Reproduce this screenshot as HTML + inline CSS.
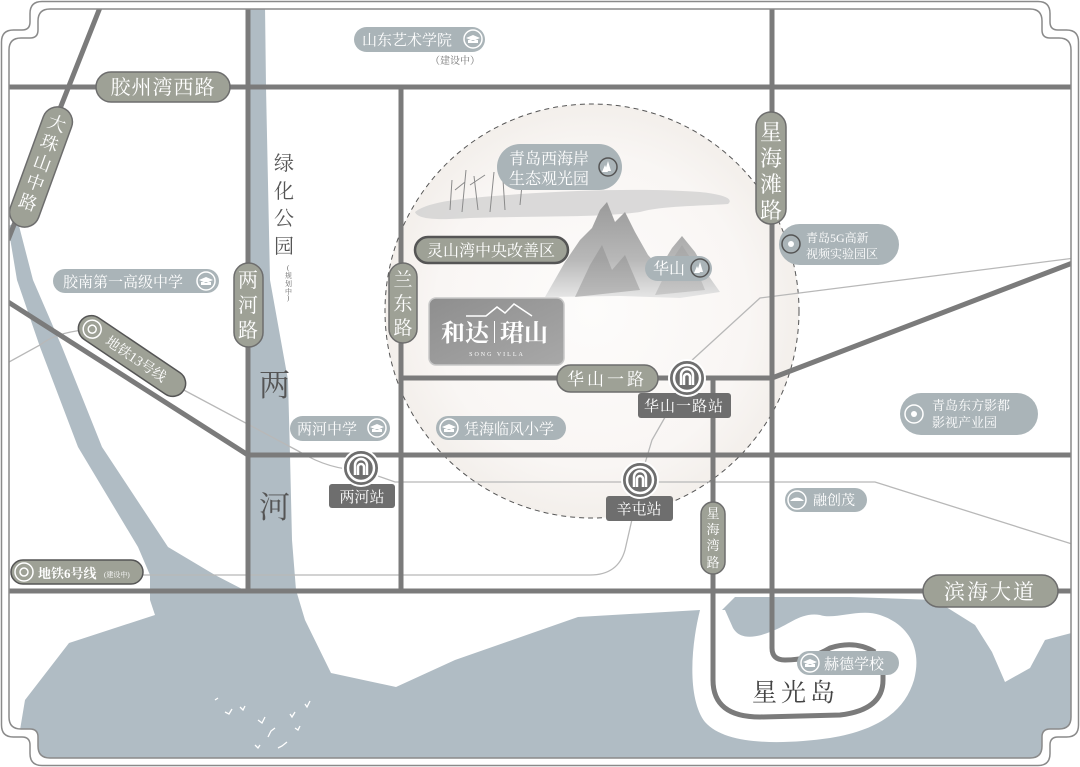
<!DOCTYPE html>
<html><head><meta charset="utf-8"><style>
html,body{margin:0;padding:0;background:#fff;}
svg{display:block;}
text{font-family:"Liberation Serif","Noto Serif CJK SC",serif;}
</style></head><body>
<svg width="1080" height="767" viewBox="0 0 1080 767" xmlns="http://www.w3.org/2000/svg">
<defs>
<clipPath id="fr"><path d="M9,50 Q9,38 21,38 L30,38 Q38,38 38,30 L38,21 Q38,9 50,9 L1030,9 Q1042,9 1042,21 L1042,30 Q1042,38 1050,38 L1059,38 Q1071,38 1071,50 L1071,717 Q1071,729 1059,729 L1050,729 Q1042,729 1042,737 L1042,746 Q1042,758 1030,758 L50,758 Q38,758 38,746 L38,737 Q38,729 30,729 L21,729 Q9,729 9,717 Z"/></clipPath>
<radialGradient id="cg" cx="0.5" cy="0.5" r="0.5"><stop offset="0" stop-color="#fdfcfb"/><stop offset="0.75" stop-color="#f9f6f4"/><stop offset="1" stop-color="#f3efeb"/></radialGradient>
<linearGradient id="mg" x1="0" y1="0" x2="0" y2="1"><stop offset="0" stop-color="#9a9a9a"/><stop offset="0.6" stop-color="#b8b8b8"/><stop offset="1" stop-color="#e6e6e6"/></linearGradient>
<linearGradient id="lg" x1="0" y1="0" x2="1" y2="1"><stop offset="0" stop-color="#8e8e8e"/><stop offset="1" stop-color="#a8a8a8"/></linearGradient>
</defs>

<path d="M1.5,42 Q1.5,30 13.5,30 L22,30 Q30,30 30,22 L30,13.5 Q30,1.5 42,1.5 L1038,1.5 Q1050,1.5 1050,13.5 L1050,22 Q1050,30 1058,30 L1066.5,30 Q1078.5,30 1078.5,42 L1078.5,725 Q1078.5,737 1066.5,737 L1058,737 Q1050,737 1050,745 L1050,753.5 Q1050,765.5 1038,765.5 L42,765.5 Q30,765.5 30,753.5 L30,745 Q30,737 22,737 L13.5,737 Q1.5,737 1.5,725 Z" fill="none" stroke="#8a8a8a" stroke-width="1.5"/>

<g clip-path="url(#fr)">
<rect x="0" y="0" width="1080" height="767" fill="#fff"/>
<circle cx="592" cy="311" r="207" fill="url(#cg)"/>

<path d="M8,226 L17,280 L40,347 L78,447 L138,547 L150,575 L150,600 L155,615 L69,643 L25,700 L15,760 L1075,760 L1075,632 L1045,640 L1030,668 L1005,682 L992,652 L975,625 L935,600 L850,597 L735,597 L722,610 L700,610 L578,617 L455,660 L396,687 L331,673 L305,620 L296,590 L292,540 L290,455 L288,380 L270,280 L266,87 L265,5 L250,5 L250,590 L244,590 L215,575 L168,547 L102,447 L62,347 L33,280 L18,222 Z" fill="#b0bcc4"/>
<path d="M700,610 C690,650 688,700 705,722 C725,745 780,745 830,738 C880,730 905,710 914,680 C922,650 910,625 880,615 C860,608 835,620 820,615 C800,612 790,625 770,632 C755,638 740,640 733,628 L725,610 Z" fill="#fff"/>

<path d="M415,212 C430,200 470,198 520,194 C580,190 650,188 700,192 C720,194 735,198 728,204 C700,206 660,206 640,212 C600,218 520,216 470,218 C440,220 418,220 415,212 Z" fill="#cfcfcf" opacity="0.75"/>
<g stroke="#8a8a8a" stroke-width="1" fill="none">
<path d="M450,210 L452,180 M462,212 L466,170 M478,210 L474,176 M490,212 L494,172 M505,210 L503,180 M520,205 L522,185 M470,185 L485,175 M455,190 L465,182"/>
</g>
<path d="M545,297 L565,262 L580,240 L592,228 L600,210 L607,202 L615,222 L625,212 L635,232 L648,255 L660,268 L672,248 L682,236 L695,252 L708,275 L720,292 L680,298 L620,296 Z" fill="url(#mg)"/>
<path d="M575,297 L590,265 L602,245 L612,270 L625,255 L640,290 Z" fill="#8a8a8a" opacity="0.45"/>
<path d="M655,295 L672,260 L682,245 L695,265 L705,290 Z" fill="#999" opacity="0.35"/>

<circle cx="592" cy="311" r="207" fill="none" stroke="#555" stroke-width="1" stroke-dasharray="5,4"/>

<g stroke="#b8b8b8" stroke-width="1.3" fill="none">
<path d="M9,362 L40,345 Q55,333 84,330"/>
<path d="M180,388 L300,452 Q330,470 361,470 L395,482 L875,482 L1075,545"/>
<path d="M640,480 L652,440 L668,412"/>
<path d="M690,362 L760,298 L1075,258"/>
<path d="M143,575 L590,575 Q618,575 625,550 L633,515"/>
</g>

<g stroke="#7b7b7b" stroke-width="5" fill="none" stroke-linejoin="round">
<path d="M0,87 L1080,87"/>
<path d="M101,5 L8,240"/>
<path d="M248,5 L248,592"/>
<path d="M401,87 L401,592"/>
<path d="M772,5 L772,648 Q772,660 785,660 Q810,660 830,648 Q855,640 875,652"/>
<path d="M401,378 L772,378 L1075,262"/>
<path d="M248,455 L1080,455"/>
<path d="M5,300 L248,455"/>
<path d="M0,591 L1080,591"/>
<path d="M713,378 L713,680 Q713,717 760,717 L840,715 Q883,710 883,680 L883,665"/>
</g>

<g fill="#555" font-size="31">
<text x="259" y="396">两</text>
<text x="259" y="518">河</text>
</g>
<g fill="#555" font-size="20">
<text x="274" y="170">绿</text><text x="274" y="198">化</text><text x="274" y="225">公</text><text x="274" y="253">园</text>
</g>
<g fill="#666" font-size="7"><text x="287" y="270">(</text><text x="285" y="278">规</text><text x="285" y="286">划</text><text x="285" y="294">中</text><text x="287" y="300">)</text></g>
<text x="752" y="701" fill="#444" font-size="25" letter-spacing="4">星光岛</text>

<g stroke="#fff" stroke-width="1.3" fill="none">
<path d="M215,700 l3,-2 M225,712 l4,2 l3,-5 M240,707 l3,3 l2,-4 M258,720 l4,3 l3,-6 M268,737 l3,-6 l4,-3 M290,714 l2,3 l3,-5 M295,728 l3,2 l2,-4 M305,704 l2,3 l3,-6 M255,745 l3,3 l2,-3 M278,748 l4,-2 l5,-4"/>
</g>

<g fill="#9ea196" stroke="#6d6d6d" stroke-width="1.5">
<rect x="96" y="72" width="134" height="30" rx="15"/>
<rect x="234" y="263" width="29" height="84" rx="14.5"/>
<rect x="389" y="263" width="28" height="80" rx="14"/>
<rect x="756" y="112" width="30" height="112" rx="15"/>
<rect x="557" y="365" width="101" height="27" rx="13.5"/>
<rect x="923" y="575" width="135" height="32" rx="16"/>
<rect x="701" y="502" width="24" height="72" rx="12"/>
<rect x="11" y="560" width="132" height="24" rx="12" stroke="#555"/>
<rect x="415" y="237" width="153" height="26" rx="13" stroke="#555" stroke-width="2.5"/>
<g transform="translate(41,167) rotate(20)"><rect x="-15" y="-63" width="30" height="126" rx="15"/></g>
<g transform="translate(132,356) rotate(34)"><rect x="-62" y="-13" width="124" height="26" rx="13" stroke="#555"/></g>
</g>
<g fill="#fff">
<text x="163" y="94" font-size="20" text-anchor="middle" letter-spacing="1">胶州湾西路</text>
<g font-size="20" text-anchor="middle"><text x="248" y="287">两</text><text x="248" y="312">河</text><text x="248" y="337">路</text></g>
<g font-size="19" text-anchor="middle"><text x="403" y="286">兰</text><text x="403" y="310">东</text><text x="403" y="334">路</text></g>
<g font-size="22" text-anchor="middle"><text x="771" y="140">星</text><text x="771" y="166">海</text><text x="771" y="192">滩</text><text x="771" y="218">路</text></g>
<text x="607" y="385" font-size="17" text-anchor="middle" letter-spacing="3">华山一路</text>
<text x="990" y="599" font-size="21" text-anchor="middle" letter-spacing="2">滨海大道</text>
<g font-size="13" text-anchor="middle"><text x="713" y="518">星</text><text x="713" y="534">海</text><text x="713" y="550">湾</text><text x="713" y="567">路</text></g>
<text x="491" y="256" font-size="16" text-anchor="middle">灵山湾中央改善区</text>
<text x="38" y="578" font-size="13" font-weight="bold">地铁6号线</text>
<text x="104" y="577" font-size="7">(建设中)</text>
<g transform="translate(41,167) rotate(20)" font-size="18" text-anchor="middle"><text x="0" y="-40">大</text><text x="0" y="-19">珠</text><text x="0" y="2">山</text><text x="0" y="23">中</text><text x="0" y="44">路</text></g>
<g transform="translate(132,356) rotate(34)"><text x="-30" y="5" font-size="14">地铁13号线</text>
<circle cx="-48" cy="0" r="9" fill="none" stroke="#fff" stroke-width="1.5"/><circle cx="-48" cy="0" r="4" fill="none" stroke="#fff" stroke-width="1.5"/></g>
<circle cx="24" cy="572" r="9" fill="none" stroke="#fff" stroke-width="1.5"/><circle cx="24" cy="572" r="4" fill="none" stroke="#fff" stroke-width="1.5"/>
</g>

<g fill="#aab4b8">
<rect x="354" y="27" width="131" height="25" rx="12.5"/>
<rect x="53" y="269" width="166" height="24" rx="12"/>
<rect x="290" y="416" width="100" height="25" rx="12.5"/>
<rect x="436" y="416" width="130" height="24" rx="12"/>
<rect x="497" y="144" width="125" height="46" rx="23"/>
<rect x="645" y="256" width="67" height="25" rx="12.5"/>
<rect x="779" y="224" width="120" height="41" rx="20.5"/>
<rect x="900" y="393" width="138" height="42" rx="21"/>
<rect x="785" y="488" width="82" height="24" rx="12"/>
<rect x="797" y="651" width="102" height="24" rx="12"/>
</g>
<g fill="#fff">
<text x="362" y="45" font-size="15">山东艺术学院</text>
<text x="63" y="287" font-size="15">胶南第一高级中学</text>
<text x="297" y="434" font-size="15">两河中学</text>
<text x="464" y="434" font-size="15">凭海临风小学</text>
<text x="509" y="164" font-size="16">青岛西海岸</text>
<text x="509" y="184" font-size="16">生态观光园</text>
<text x="653" y="274" font-size="16">华山</text>
<text x="806" y="242" font-size="12">青岛5G高新</text>
<text x="806" y="258" font-size="12">视频实验园区</text>
<text x="932" y="410" font-size="13">青岛东方影都</text>
<text x="932" y="427" font-size="13">影视产业园</text>
<text x="813" y="505" font-size="14">融创茂</text>
<text x="824" y="669" font-size="15">赫德学校</text>
</g>
<text x="430" y="64" font-size="10" fill="#777">（建设中）</text>
<g fill="#aab4b8" stroke="#fff" stroke-width="1.5">
<circle cx="473" cy="39" r="9"/><circle cx="206" cy="281" r="9"/><circle cx="377" cy="428" r="9"/><circle cx="449" cy="428" r="9"/>
<circle cx="608" cy="167" r="9" stroke="#555"/><circle cx="700" cy="268" r="9" stroke="#555"/>
<circle cx="791" cy="244" r="9" stroke="#555"/><circle cx="914" cy="414" r="9"/><circle cx="797" cy="500" r="9"/><circle cx="810" cy="663" r="9"/>
</g>
<g fill="#fff">
<path d="M466,38 L473,35 L480,38 L473,41 Z M468,40 L468,43 L478,43 L478,40 Z"/>
<path d="M199,280 L206,277 L213,280 L206,283 Z M201,282 L201,285 L211,285 L211,282 Z"/>
<path d="M370,427 L377,424 L384,427 L377,430 Z M372,429 L372,432 L382,432 L382,429 Z"/>
<path d="M442,427 L449,424 L456,427 L449,430 Z M444,429 L444,432 L454,432 L454,429 Z"/>
<path d="M803,662 L810,659 L817,662 L810,665 Z M805,664 L805,667 L815,667 L815,664 Z"/>
<path d="M790,501 Q797,494 804,501 Z"/>
<path d="M605,171 L608,161 L611,171 Z M602,172 L605,165 L608,172 Z"/>
<path d="M697,272 L700,262 L703,272 Z M694,273 L697,266 L700,273 Z"/>
<circle cx="791" cy="244" r="3"/><circle cx="914" cy="414" r="3"/>
</g>

<g>
<rect x="329" y="484" width="66" height="24" rx="3" fill="#6e6e6e"/>
<rect x="606" y="496" width="67" height="25" rx="3" fill="#6e6e6e"/>
<rect x="638" y="393" width="93" height="25" rx="3" fill="#6e6e6e"/>
<g fill="#6e6e6e" stroke="#fff" stroke-width="2">
<circle cx="361" cy="468" r="18"/><circle cx="640" cy="480" r="18"/><circle cx="687" cy="378" r="18"/>
</g>
<g fill="none" stroke="#fff" stroke-width="2.5">
<circle cx="361" cy="468" r="13"/><path d="M355,475 L355,465 A6,6 0 0 1 367,465 L367,475 M358,475 L358,467 A3,3 0 0 1 364,467 L364,475"/>
<circle cx="640" cy="480" r="13"/><path d="M634,487 L634,477 A6,6 0 0 1 646,477 L646,487 M637,487 L637,479 A3,3 0 0 1 643,479 L643,487"/>
<circle cx="687" cy="378" r="13"/><path d="M681,385 L681,375 A6,6 0 0 1 693,375 L693,385 M684,385 L684,377 A3,3 0 0 1 690,377 L690,385"/>
</g>
<g fill="#fff" font-size="15" text-anchor="middle">
<text x="362" y="502">两河站</text><text x="639" y="514">辛屯站</text><text x="684" y="411" letter-spacing="1">华山一路站</text>
</g>
</g>

<rect x="429" y="298" width="135" height="67" rx="7" fill="url(#lg)" stroke="#c8c8c8" stroke-width="1.5"/>
<path d="M466,316 L486,316 L497,307 L505,313 L514,304 L532,316" fill="none" stroke="#fff" stroke-width="1.5"/>
<text x="441" y="341" font-size="24" font-weight="bold" fill="#fff">和达</text>
<rect x="494" y="321" width="1" height="22" fill="#fff"/>
<text x="500" y="341" font-size="24" font-weight="bold" fill="#fff">珺山</text>
<text x="497" y="356" font-size="6" fill="#fff" text-anchor="middle" letter-spacing="2" font-family="Liberation Sans">SONG VILLA</text>
</g>

<path d="M9,50 Q9,38 21,38 L30,38 Q38,38 38,30 L38,21 Q38,9 50,9 L1030,9 Q1042,9 1042,21 L1042,30 Q1042,38 1050,38 L1059,38 Q1071,38 1071,50 L1071,717 Q1071,729 1059,729 L1050,729 Q1042,729 1042,737 L1042,746 Q1042,758 1030,758 L50,758 Q38,758 38,746 L38,737 Q38,729 30,729 L21,729 Q9,729 9,717 Z" fill="none" stroke="#8a8a8a" stroke-width="1.5"/>
</svg>
</body></html>
